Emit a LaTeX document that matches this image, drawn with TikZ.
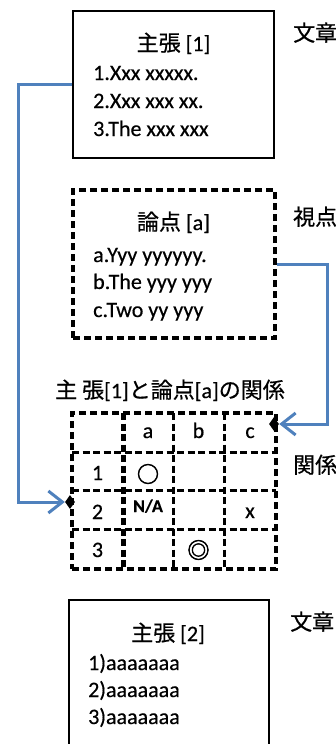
\documentclass[tikz,border=0pt]{standalone}
\usepackage{fontspec}
\setmainfont{Carlito}[RawFeature={embolden=0.5}]
\newfontfamily\jp{Noto Sans CJK JP}[RawFeature={embolden=0.6}]
\newfontfamily\jpsym{Noto Sans CJK JP}[RawFeature={embolden=2.5}]
\usetikzlibrary{arrows.meta,positioning,shapes.geometric}
\definecolor{linkblue}{RGB}{79,129,189}

\begin{document}
\begin{tikzpicture}[x=1pt,y=-1pt]
\tikzstyle{txt}=[inner sep=0pt,font=\fontsize{22}{27}\selectfont]
\tikzstyle{small}=[inner sep=0pt,font=\fontsize{18}{21}\selectfont\bfseries]
\tikzstyle{frame}=[draw=black,line width=2pt,inner sep=0pt]
\tikzstyle{dashframe}=[draw=black,line width=3.2pt,dash pattern=on 7pt off 4pt,inner sep=0pt]
\tikzstyle{grid}=[line width=3pt,dash pattern=on 7pt off 3.5pt]
\tikzstyle{pin}=[diamond,fill=black,inner sep=0pt,minimum width=10pt,minimum height=14pt]
\tikzstyle{link}=[draw=linkblue,line width=3pt,-{Straight Barb[length=14pt,width=22pt,line width=3pt]}]
\clip (0,0) rectangle (336,744);
% boxes
\node [frame,minimum width=201pt,minimum height=147pt] (box1) at (173.5,84.5) {};
\node [dashframe,minimum width=202pt,minimum height=148pt] (box2) at (174,264) {};
\node [frame,minimum width=200pt,minimum height=190pt] (box3) at (169,695) {};
\node [dashframe,minimum width=204pt,minimum height=156pt] (tab) at (174,491) {};
% box texts
\node [txt,anchor=base] (h1) at (173.5,51) {{\jp 主張} [1]};
\node [txt,anchor=base west] (l11) at (93,80) {1.Xxx xxxxx.};
\node [txt,anchor=base west] (l12) at (93,108) {2.Xxx xxx xx.};
\node [txt,anchor=base west] (l13) at (93,136) {3.The xxx xxx};
\node [txt,anchor=base] (h2) at (173.5,230) {{\jp 論点} [a]};
\node [txt,anchor=base west] (l21) at (93,262) {a.Yyy yyyyyy.};
\node [txt,anchor=base west] (l22) at (93,289) {b.The yyy yyy};
\node [txt,anchor=base west] (l23) at (93,317) {c.Two yy yyy};
\node [txt,anchor=base] (h3) at (168,641) {{\jp 主張} [2]};
\node [txt,anchor=base west] (l31) at (88,670) {1)aaaaaaa};
\node [txt,anchor=base west] (l32) at (88,697) {2)aaaaaaa};
\node [txt,anchor=base west] (l33) at (88,724) {3)aaaaaaa};
% side labels
\node [txt,anchor=base west] (s1) at (293,41) {\jp 文章};
\node [txt,anchor=base west] (s2) at (293,225) {\jp 視点};
\node [txt,anchor=base west] (s3) at (293,473) {\jp 関係};
\node [txt,anchor=base west] (s4) at (290,630) {\jp 文章};
\node [txt,anchor=base] (title) at (170,398) {{\jp 主 張}[1]{\jp と論点}[a]{\jp の関係}};
% table
\draw [grid,line width=5pt] (123,413) -- (123,569);
\foreach \x in {173,224}
  \draw [grid] (\x,413) -- (\x,569);
\foreach \y in {452,490,529}
  \draw [grid] (72,\y) -- (276,\y);
\node [txt,anchor=base] (ca) at (148,438) {a};
\node [txt,anchor=base] (cb) at (198.5,438) {b};
\node [txt,anchor=base] (cc) at (250,438) {c};
\node [txt,anchor=base] (r1) at (97.5,480) {1};
\node [txt,anchor=base] (r2) at (97.5,519) {2};
\node [txt,anchor=base] (r3) at (97.5,557) {3};
\node [txt] (m1a) at (148,474) {\jpsym ○};
\node [small,anchor=base] (m2a) at (148,512) {N/A};
\node [txt,anchor=base] (m2c) at (250,518) {x};
\node [txt] (m3b) at (198.5,550) {\jpsym ◎};
\node [pin] (pR) at (274,424) {};
\node [pin] (pL) at (70,502) {};
% links
\draw [link] (box1.west) -- ++(-54,0) |- (pL.west);
\draw [link] (box2.east) -- ++(51,0) |- (pR.east);
\end{tikzpicture}
\end{document}
